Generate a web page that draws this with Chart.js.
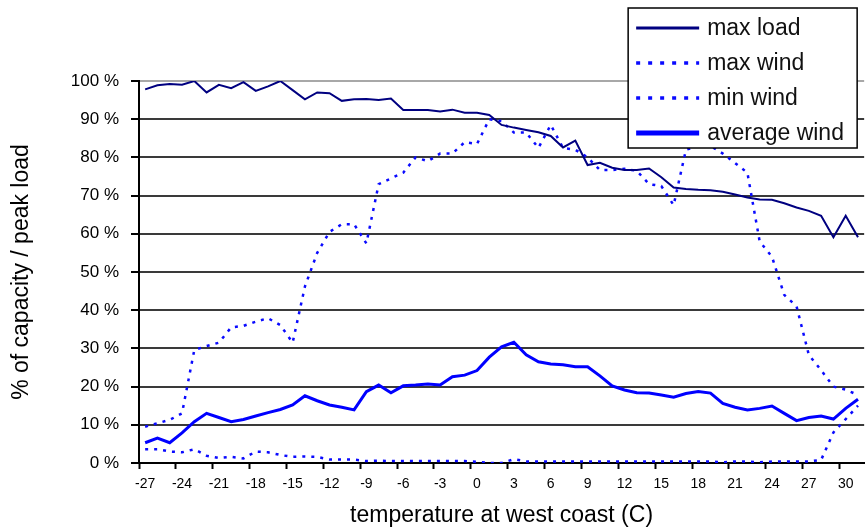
<!DOCTYPE html>
<html>
<head>
<meta charset="utf-8">
<script src="https://cdn.jsdelivr.net/npm/chart.js@4.4.1/dist/chart.umd.min.js"></script>
<style>
html,body{margin:0;padding:0;background:#fff;overflow:hidden}
#wrap{position:relative;width:865px;height:529px}
</style>
</head>
<body>
<div id="wrap"><canvas id="c" width="865" height="529"></canvas></div>
<script>
// ---- data (percent) ----
const temperatures = [-27,-26,-25,-24,-23,-22,-21,-20,-19,-18,-17,-16,-15,-14,-13,-12,-11,-10,-9,-8,-7,-6,-5,-4,-3,-2,-1,0,1,2,3,4,5,6,7,8,9,10,11,12,13,14,15,16,17,18,19,20,21,22,23,24,25,26,27,28,29,30,31];

const maxLoad = [97.8,98.9,99.2,99.0,100,97.0,99.0,98.1,99.7,97.4,98.6,100,97.6,95.2,97.0,96.8,94.8,95.2,95.3,95.0,95.4,92.4,92.4,92.4,92.0,92.5,91.7,91.7,91.1,88.5,87.8,87.2,86.6,85.6,82.6,84.4,78.0,78.6,77.3,76.7,76.7,77.1,74.8,72.1,71.7,71.5,71.4,71.0,70.3,69.5,69.0,68.9,68.0,66.9,66.0,64.7,59.1,64.7,59.1];

const maxWind = [9.5,10.4,11.3,13.0,29.6,30.6,31.5,35.5,35.9,37.0,37.9,36.1,31.5,46.2,55.0,60.5,62.5,62.5,57.5,73.0,74.5,76.0,80.0,79.0,81.0,81.0,84.0,83.5,90.0,89.5,86.5,86.5,82.5,88.5,82.5,82.0,80.0,76.7,76.7,77.0,76.5,73.0,72.5,67.5,82.0,83.0,83.0,81.0,78.5,76.0,58.0,54.0,44.0,41.0,28.3,24.3,20.0,19.2,17.8];

const minWind = [3.6,3.6,3.0,2.8,3.6,1.9,1.3,1.6,1.2,3.0,2.8,2.1,1.6,1.7,1.6,0.9,0.9,0.9,0.5,0.6,0.5,0.5,0.5,0.5,0.5,0.5,0.5,0.3,0,0,1.0,0.4,0.4,0.4,0.4,0.4,0.4,0.4,0.4,0.4,0.4,0.4,0.4,0.4,0.4,0.4,0.4,0.2,0.4,0.4,0.2,0.4,0.4,0.4,0.4,0.8,8.0,11.5,15.0];

const avgWind = [5.3,6.5,5.3,7.9,10.8,13.0,11.9,10.8,11.4,12.3,13.2,14.0,15.2,17.6,16.3,15.2,14.6,13.9,18.7,20.4,18.4,20.2,20.4,20.7,20.4,22.6,23.0,24.2,27.7,30.4,31.6,28.3,26.5,25.9,25.7,25.2,25.2,22.8,20.2,19.1,18.4,18.3,17.8,17.2,18.2,18.7,18.3,15.6,14.6,13.9,14.3,14.9,13.0,11.1,11.9,12.3,11.5,14.3,16.7];

const seriesNames = ['max load','max wind','min wind','average wind'];
const xTitle = 'temperature at west coast (C)';
const yTitle = '% of capacity / peak load';

// ---- chart ----
const FONT = "'Liberation Sans', Arial, sans-serif";
Chart.defaults.font.family = FONT;
Chart.defaults.color = '#000';

const boxLegend = {
  id: 'boxLegend',
  afterDraw(chart) {
    const ctx = chart.ctx, a = chart.chartArea;
    const right = a.right - 7, left = right - 229, top = 8, bottom = 148;
    ctx.save();
    ctx.fillStyle = '#fff';
    ctx.fillRect(left, top, right - left, bottom - top);
    ctx.strokeStyle = '#000';
    ctx.lineWidth = 1.5;
    ctx.strokeRect(left, top, right - left, bottom - top);
    chart.data.datasets.forEach((ds, i) => {
      const y = top + 20 + i * 35;
      ctx.beginPath();
      ctx.setLineDash(ds.legendDash || []);
      ctx.strokeStyle = ds.borderColor;
      ctx.lineWidth = ds.legendWidth;
      ctx.moveTo(left + 8, y);
      ctx.lineTo(left + 71, y);
      ctx.stroke();
      ctx.setLineDash([]);
      ctx.fillStyle = '#111';
      ctx.font = "23px " + FONT;
      ctx.textBaseline = 'middle';
      ctx.textAlign = 'left';
      ctx.fillText(ds.label, left + 79, y + 1);
    });
    ctx.restore();
  }
};

new Chart(document.getElementById('c'), {
  type: 'line',
  data: {
    labels: temperatures,
    datasets: [
      { label: seriesNames[0], data: maxLoad, borderColor: '#000080', borderWidth: 2, legendWidth: 3 },
      { label: seriesNames[1], data: maxWind, borderColor: '#0a0aff', borderWidth: 2.5, borderDash: [3, 6], legendDash: [4, 8], legendWidth: 3.5 },
      { label: seriesNames[2], data: minWind, borderColor: '#0a0aff', borderWidth: 2.5, borderDash: [3, 6], legendDash: [4, 8], legendWidth: 3.5 },
      { label: seriesNames[3], data: avgWind, borderColor: '#0000ff', borderWidth: 3, legendWidth: 5 }
    ]
  },
  options: {
    responsive: false,
    animation: false,
    devicePixelRatio: 1,
    layout: { padding: { top: 81, right: 0, bottom: 0, left: 0 } },
    elements: { point: { radius: 0 }, line: { tension: 0, fill: false, borderCapStyle: 'butt' } },
    plugins: { legend: { display: false }, tooltip: { enabled: false } },
    scales: {
      x: {
        type: 'category',
        offset: true,
        ticks: {
          autoSkip: false, maxRotation: 0, minRotation: 0,
          callback: (v, i) => (i % 3 === 0 ? String(temperatures[i]) : ''),
          font: { size: 14 }, color: '#000', padding: 7
        },
        grid: {
          offset: true, drawOnChartArea: false, drawTicks: true, tickLength: 6, tickWidth: 2,
          tickColor: c => (c.index % 3 === 0 ? '#000' : 'rgba(0,0,0,0)')
        },
        border: { color: '#000', width: 2 },
        title: { display: true, text: xTitle, font: { size: 23 }, color: '#000', padding: { top: -2, bottom: 0 } },
        afterFit: s => { s.height = 66; }
      },
      y: {
        min: 0, max: 100,
        ticks: { stepSize: 10, callback: v => v + ' %', font: { size: 17 }, color: '#000', padding: 12 },
        grid: {
          color: c => (c.tick && c.tick.value === 100 ? '#a8a8a8' : '#3a3a3a'),
          lineWidth: 2, tickLength: 8, tickWidth: 2, tickColor: '#000'
        },
        border: { color: '#000', width: 2 },
        title: { display: true, text: yTitle, font: { size: 23 }, color: '#000', padding: { top: 8, bottom: 0 } },
        afterFit: s => { s.width = 139; }
      }
    }
  },
  plugins: [boxLegend]
});
</script>
</body>
</html>
